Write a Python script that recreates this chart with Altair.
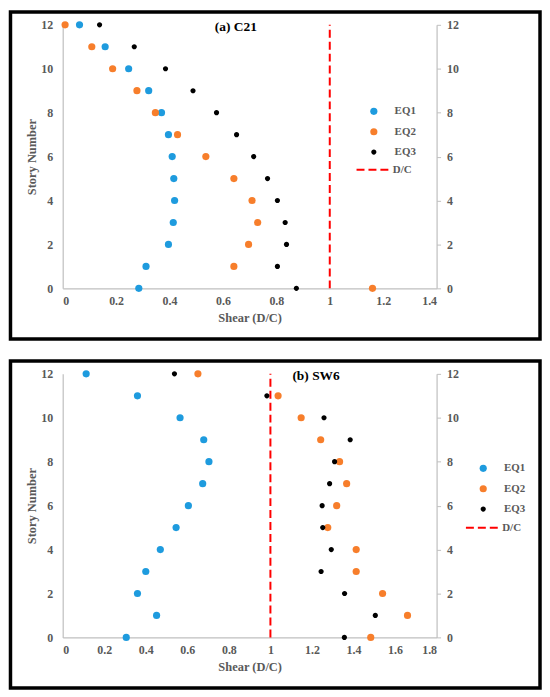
import altair as alt
import pandas as pd

# ---------------- data ----------------
stories = [12, 11, 10, 9, 8, 7, 6, 5, 4, 3, 2, 1, 0]

a_eq1 = [0.063, 0.159, 0.247, 0.322, 0.370, 0.396, 0.410, 0.416, 0.419, 0.414, 0.396, 0.312, 0.285]
a_eq2 = [0.009, 0.109, 0.187, 0.278, 0.347, 0.430, 0.536, 0.641, 0.709, 0.730, 0.696, 0.641, 1.160]
a_eq3 = [0.138, 0.268, 0.385, 0.488, 0.576, 0.651, 0.715, 0.767, 0.804, 0.833, 0.838, 0.804, 0.875]

b_eq1 = [0.113, 0.360, 0.565, 0.679, 0.704, 0.674, 0.605, 0.546, 0.470, 0.400, 0.360, 0.452, 0.306]
b_eq2 = [0.651, 1.037, 1.148, 1.242, 1.333, 1.367, 1.319, 1.276, 1.413, 1.413, 1.540, 1.660, 1.483]
b_eq3 = [0.538, 0.983, 1.258, 1.384, 1.309, 1.285, 1.249, 1.252, 1.293, 1.244, 1.357, 1.505, 1.356]

series_names = ["EQ1", "EQ2", "EQ3"]
series_colors = ["#1E9BDE", "#F77E2B", "#000000"]

dc_label = "D/C"
dc_value = 1.0

a_xticks = [0, 0.2, 0.4, 0.6, 0.8, 1, 1.2, 1.4]
b_xticks = [0, 0.2, 0.4, 0.6, 0.8, 1, 1.2, 1.4, 1.6, 1.8]
y_ticks = [0, 2, 4, 6, 8, 10, 12]

a_title = "(a) C21"
b_title = "(b) SW6"

# ---------------- style ----------------
FONT = "Liberation Serif"
GRAY_TXT = "#595959"
GRAY_LINE = "#BFBFBF"
W, H = 376, 265
DOT = 52
SMALL = "M -0.72 0 A 0.72 0.72 0 1 0 0.72 0 A 0.72 0.72 0 1 0 -0.72 0 Z"
series_shapes = ["circle", "circle", SMALL]


def panel(eqs, xticks, title, title_x, title_y, leg_cx, leg_cy, dc_cy):
    rows = []
    for name, vals in zip(series_names, eqs):
        for s, v in zip(stories, vals):
            rows.append({"shear": v, "story": s, "series": name})
    pts_df = pd.DataFrame(rows)

    xscale = alt.Scale(domain=[xticks[0], xticks[-1]], nice=False)
    yscale = alt.Scale(domain=[0, 12], nice=False)

    xaxis = alt.Axis(
        values=xticks, format="~g", title="Shear (D/C)", ticks=False, tickSize=0,
        grid=False, domainColor=GRAY_LINE, domainWidth=1.2,
        labelFont=FONT, labelFontWeight="bold", labelFontSize=12, labelColor=GRAY_TXT,
        labelPadding=7, titleFont=FONT, titleFontWeight="bold", titleFontSize=12.5,
        titleColor=GRAY_TXT, titlePadding=5,
    )
    yaxis_left = alt.Axis(
        values=y_ticks, title="Story Number", ticks=False, tickSize=0,
        grid=False, domainColor=GRAY_LINE, domainWidth=1.2,
        labelFont=FONT, labelFontWeight="bold", labelFontSize=12, labelColor=GRAY_TXT,
        labelPadding=10, titleFont=FONT, titleFontWeight="bold", titleFontSize=12.5,
        titleColor=GRAY_TXT, titlePadding=2,
    )
    yaxis_right = alt.Axis(
        orient="right", values=y_ticks, title="", ticks=True, tickSize=4,
        tickColor=GRAY_LINE, grid=False, domainColor=GRAY_LINE, domainWidth=1.2,
        labelFont=FONT, labelFontWeight="bold", labelFontSize=12, labelColor=GRAY_TXT,
        labelPadding=6,
    )

    leg_common = dict(
        title=None, orient="none", padding=0,
        labelFont=FONT, labelFontWeight="bold", labelFontSize=11, labelColor=GRAY_TXT,
        rowPadding=8.5,
    )
    r = (DOT ** 0.5) / 2
    pt_legend = alt.Legend(legendX=leg_cx - r, legendY=leg_cy - 5.5,
                           labelOffset=19 - r, symbolSize=DOT, symbolStrokeWidth=0,
                           **leg_common)
    dc_legend = alt.Legend(legendX=leg_cx - 16.5, legendY=dc_cy - 17.5,
                           labelOffset=2.5, symbolType="stroke", symbolSize=1089,
                           symbolStrokeWidth=2, symbolStrokeColor="#FF0000",
                           **leg_common)

    points = alt.Chart(pts_df).mark_point(filled=True, opacity=1, size=DOT, strokeWidth=0).encode(
        x=alt.X("shear:Q", scale=xscale, axis=xaxis),
        y=alt.Y("story:Q", scale=yscale, axis=yaxis_left),
        color=alt.Color("series:N", scale=alt.Scale(domain=series_names, range=series_colors),
                        legend=pt_legend),
        shape=alt.Shape("series:N", scale=alt.Scale(domain=series_names, range=series_shapes),
                        legend=pt_legend),
    )

    dc_df = pd.DataFrame({"shear": [dc_value], "y0": [0], "y1": [12], "ref": [dc_label]})
    rule = alt.Chart(dc_df).mark_rule(color="#FF0000", strokeWidth=2).encode(
        x=alt.X("shear:Q", scale=xscale, axis=xaxis),
        y=alt.Y("y0:Q", scale=yscale, axis=yaxis_right),
        y2="y1:Q",
        strokeDash=alt.StrokeDash("ref:N", scale=alt.Scale(domain=[dc_label], range=[[8, 4]]),
                                  legend=dc_legend),
    )

    ttl = alt.Chart(pd.DataFrame({"t": [title]})).mark_text(
        align="left", baseline="middle", font=FONT, fontWeight="bold", fontSize=13.5,
        color="#000000",
    ).encode(x=alt.value(title_x), y=alt.value(title_y), text="t:N")

    border = alt.Chart(pd.DataFrame({"b": [0]})).mark_rect(
        fill="transparent", stroke="#000000", strokeWidth=3.5,
    ).encode(x=alt.value(-52.5), x2=alt.value(480), y=alt.value(-13), y2=alt.value(316))

    return alt.layer(border, rule, points, ttl).resolve_axis(y="independent").properties(
        width=W, height=H)


pa = panel([a_eq1, a_eq2, a_eq3], a_xticks, a_title, 153, 2, 311, 87, 145.7)
pb = panel([b_eq1, b_eq2, b_eq3], b_xticks, b_title, 231, 2, 421, 95, 154.7)

chart = alt.vconcat(pa, pb, spacing=18).resolve_scale(
    color="independent", shape="independent", strokeDash="independent", x="independent"
).resolve_legend(
    color="independent", shape="independent", strokeDash="independent"
).properties(padding=0).configure_view(strokeWidth=0)

chart.save("out.html", embed_options={"renderer": "svg", "actions": False})
